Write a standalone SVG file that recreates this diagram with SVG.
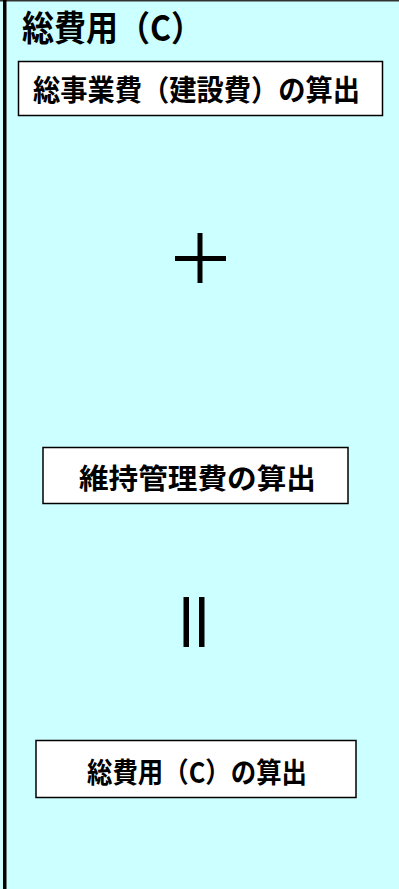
<svg xmlns="http://www.w3.org/2000/svg" width="399" height="889" viewBox="0 0 399 889">
<style>
.t{font-family:"Noto Sans CJK JP","Noto Sans CJK SC",sans-serif;font-weight:bold;fill:#000}
.box{fill:#fff;stroke:#000;stroke-width:1.5}
.bar{fill:#000}
</style>
<g id="background">
<rect x="0" y="0" width="399" height="889" fill="#CCFFFF"/>
<rect x="0" y="0" width="399" height="1.5" fill="#333"/>
<rect x="3" y="0" width="3.5" height="889" fill="#000"/>
</g>
<g id="title">
<text class="t" x="22" y="41" font-size="35" textLength="181" lengthAdjust="spacingAndGlyphs">総費用（C）</text>
</g>
<g id="node-construction">
<rect class="box" x="18.5" y="61.5" width="364" height="54"/>
<text class="t" x="33" y="101" font-size="29" textLength="327" lengthAdjust="spacingAndGlyphs">総事業費（建設費）の算出</text>
</g>
<g id="node-plus">
<rect class="bar" x="197.5" y="233" width="5" height="50"/>
<rect class="bar" x="175" y="256" width="51" height="5"/>
</g>
<g id="node-maintenance">
<rect class="box" x="43" y="447.5" width="305" height="56"/>
<text class="t" x="79" y="489" font-size="28" textLength="237" lengthAdjust="spacingAndGlyphs">維持管理費の算出</text>
</g>
<g id="node-equals">
<rect class="bar" x="183.5" y="597" width="5.5" height="50"/>
<rect class="bar" x="199" y="597" width="5.5" height="50"/>
</g>
<g id="node-total">
<rect class="box" x="36" y="740.5" width="320" height="57"/>
<text class="t" x="87" y="783" font-size="28" textLength="220" lengthAdjust="spacingAndGlyphs">総費用（C）の算出</text>
</g>
<g id="connectors"></g>
</svg>
